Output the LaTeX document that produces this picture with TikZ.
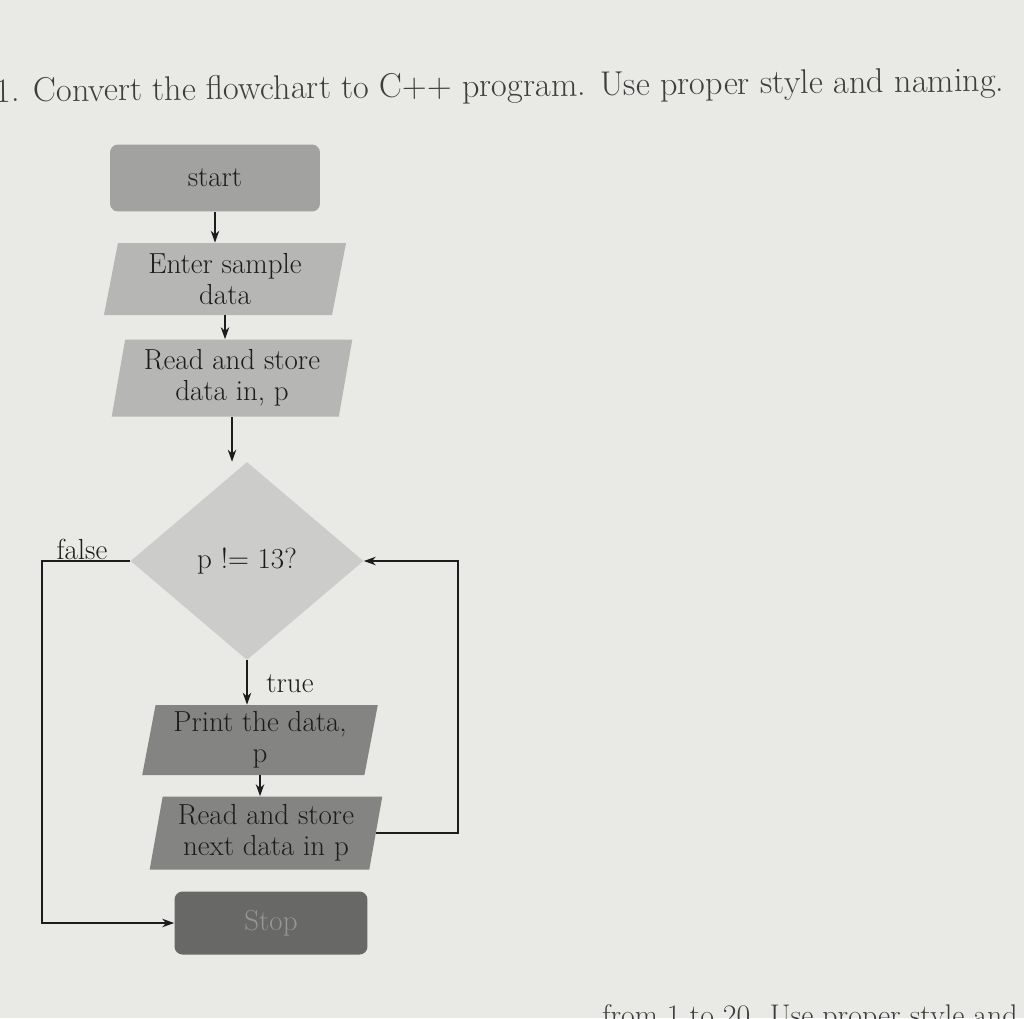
\documentclass[tikz,border=0pt]{standalone}
\usetikzlibrary{shapes.geometric,arrows.meta}
\definecolor{paper}{RGB}{233,233,230}
\definecolor{ink}{RGB}{28,28,28}
\definecolor{startgray}{RGB}{162,162,160}
\definecolor{iogray}{RGB}{182,182,180}
\definecolor{decgray}{RGB}{204,204,202}
\definecolor{darkgray}{RGB}{132,132,130}
\definecolor{stopgray}{RGB}{104,104,102}
\definecolor{stoptext}{RGB}{150,150,148}
\begin{document}
\begin{tikzpicture}[x=0.02cm, y=-0.02cm,
    every node/.style={font=\fontsize{16.5}{17.8}\selectfont, text=ink, inner sep=0pt},
    term/.style={rounded corners=0.16cm, fill=#1},
    io/.style={trapezium, trapezium left angle=79, trapezium right angle=101,
      trapezium stretches=true, fill=#1, align=center},
    flow/.style={-{Stealth[length=2.4mm,width=1.7mm]}, line width=0.8pt, draw=ink}]
  % page
  \fill[paper] (0,0) rectangle (1024,1018);
  \useasboundingbox (0,0) rectangle (1024,1018);
  \node[anchor=base west, rotate=0.6, font=\fontsize{19.5}{23}\selectfont, text=ink!85] (title) at (-5,102)
    {1. Convert the flowchart to C++ program. Use proper style and naming.};
  % boxes
  \node[term=startgray, minimum width=4.2cm, minimum height=1.34cm] (start) at (215,178) {start};
  \node[io=iogray, minimum width=4.86cm, minimum height=1.44cm] (enter) at (225,279) {Enter sample\\data};
  \node[io=iogray, minimum width=4.82cm, minimum height=1.54cm] (read) at (232,378) {Read and store\\data in, p};
  \node[diamond, fill=decgray, minimum width=4.66cm, minimum height=3.96cm] (cond) at (247,561) {p != 13?};
  \node[io=darkgray, minimum width=4.72cm, minimum height=1.4cm] (print) at (260,740) {Print the data,\\p};
  \node[io=darkgray, minimum width=4.66cm, minimum height=1.46cm] (next) at (266,833) {Read and store\\next data in p};
  \node[term=stopgray, minimum width=3.86cm, minimum height=1.26cm, text=stoptext] (stop) at (271,923) {Stop};
  % labels
  \node (lfalse) at (82,549) {false};
  \node (ltrue) at (290,684) {true};
  \coordinate (fl) at (42,0);
  \coordinate (lp) at (458,0);
  % arrows
  \draw[flow] (start.south) -- (start.south |- enter.north);
  \draw[flow] (enter.south) -- (enter.south |- read.north);
  \draw[flow] (read.south) -- (read.south |- cond.north);
  \draw[flow] (cond.south) -- (cond.south |- print.north);
  \draw[flow] (print.south) -- (print.south |- next.north);
  \draw[flow] (cond.west) -- (cond.west -| fl) -- (stop.west -| fl) -- (stop.west);
  \draw[flow] (next.east) -- (next.east -| lp) -- (cond.east -| lp) -- (cond.east);
  % cut-off next question
  \node[anchor=base west, font=\fontsize{17}{20}\selectfont, text=ink!85] (nextq) at (602,1025)
    {from 1 to 20. Use proper style and naming.};
\end{tikzpicture}
\end{document}
